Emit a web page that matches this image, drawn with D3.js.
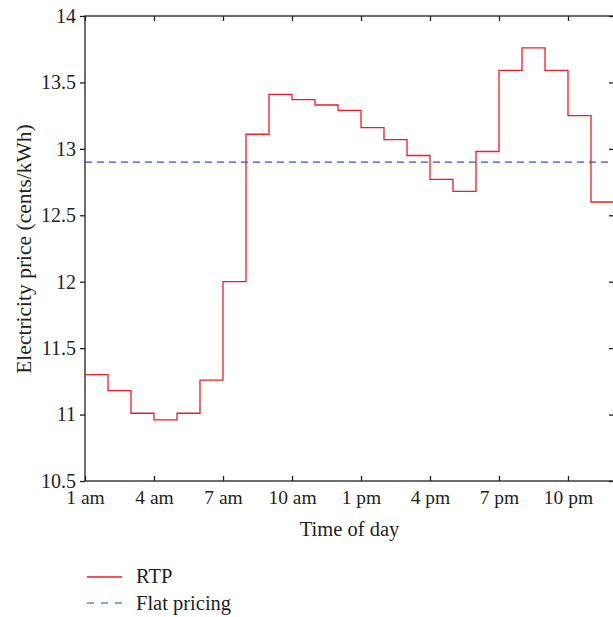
<!DOCTYPE html>
<html>
<head>
<meta charset="utf-8">
<script src="https://cdn.jsdelivr.net/npm/d3@7"></script>
<style>
  body { margin: 0; background: #fff; }
  svg text { font-family: 'Liberation Serif', 'DejaVu Serif', serif; fill: #231f20; }
</style>
</head>
<body>
<svg id="chart" width="613" height="617"></svg>
<script>
// hour at which each price step starts (1 = 1 am ... 23 = 11 pm)
const hours = [1, 2, 3, 4, 5, 6, 7, 8, 9, 10, 11, 12, 13, 14, 15, 16, 17, 18, 19, 20, 21, 22, 23];
const rtp = [11.3, 11.18, 11.01, 10.96, 11.01, 11.26, 12.0, 13.11, 13.41, 13.37, 13.33, 13.29,
	13.16, 13.07, 12.95, 12.77, 12.68, 12.98, 13.59, 13.76, 13.59, 13.25, 12.6];
const flatPrice = 12.9;
const xTicks = [1, 4, 7, 10, 13, 16, 19, 22];
const xTickLabels = ['1 am', '4 am', '7 am', '10 am', '1 pm', '4 pm', '7 pm', '10 pm'];
const yTicks = [10.5, 11, 11.5, 12, 12.5, 13, 13.5, 14];
const yTickLabels = ['10.5', '11', '11.5', '12', '12.5', '13', '13.5', '14'];

const svg = d3.select('#chart');
const plotL = 85, plotR = 614, plotT = 16, plotB = 481;

const x = d3.scaleLinear().domain([1, 24]).range([plotL, plotR]);
const y = d3.scaleLinear().domain([10.5, 14]).range([plotB, plotT]);

const axisColor = '#231f20';
const red = '#ee1c25';
const blue = '#2f55b8';

// frame
svg.append('rect')
	.attr('x', plotL).attr('y', plotT)
	.attr('width', plotR - plotL).attr('height', plotB - plotT)
	.attr('fill', 'none').attr('stroke', axisColor).attr('stroke-width', 1.3);

// x ticks: bottom (inward) with labels, top (inward)
const xAxis = svg.append('g').attr('transform', `translate(0,${plotB})`)
	.call(d3.axisBottom(x).tickValues(xTicks).tickSizeInner(-5).tickSizeOuter(0)
		.tickFormat((d, i) => xTickLabels[i]));
xAxis.select('.domain').remove();
xAxis.selectAll('line').attr('stroke', axisColor).attr('stroke-width', 1.3);
xAxis.selectAll('text').attr('y', 23).attr('dy', null)
	.style('font-size', '19.5px').attr('font-family', null);

const xTop = svg.append('g').attr('transform', `translate(0,${plotT})`)
	.call(d3.axisTop(x).tickValues(xTicks).tickSizeInner(-5).tickSizeOuter(0).tickFormat(''));
xTop.select('.domain').remove();
xTop.selectAll('line').attr('stroke', axisColor).attr('stroke-width', 1.3);

// y ticks: left (outward) with labels, right (inward)
const yAxis = svg.append('g').attr('transform', `translate(${plotL},0)`)
	.call(d3.axisLeft(y).tickValues(yTicks).tickSizeInner(5).tickSizeOuter(0)
		.tickFormat((d, i) => yTickLabels[i]));
yAxis.select('.domain').remove();
yAxis.selectAll('line').attr('stroke', axisColor).attr('stroke-width', 1.3);
yAxis.selectAll('text').attr('x', -9).style('font-size', '20px').attr('font-family', null);

const yRight = svg.append('g').attr('transform', `translate(${plotR},0)`)
	.call(d3.axisRight(y).tickValues(yTicks).tickSizeInner(-5).tickSizeOuter(0).tickFormat(''));
yRight.select('.domain').remove();
yRight.selectAll('line').attr('stroke', axisColor).attr('stroke-width', 1.3);

// flat pricing
svg.append('line')
	.attr('x1', x(1)).attr('x2', x(24))
	.attr('y1', y(flatPrice)).attr('y2', y(flatPrice))
	.attr('stroke', blue).attr('stroke-width', 1.3)
	.attr('stroke-dasharray', '7,5');

// RTP step line
const stepData = hours.map((h, i) => ({ h: h, v: rtp[i] }));
stepData.push({ h: 24, v: rtp[rtp.length - 1] });
const line = d3.line().x(d => x(d.h)).y(d => y(d.v)).curve(d3.curveStepAfter);
svg.append('path')
	.datum(stepData)
	.attr('d', line)
	.attr('fill', 'none')
	.attr('stroke', red)
	.attr('stroke-width', 1.3);

// axis titles
svg.append('text')
	.attr('x', (plotL + plotR) / 2).attr('y', 536)
	.attr('text-anchor', 'middle')
	.style('font-size', '20.5px')
	.text('Time of day');

svg.append('text')
	.attr('transform', `translate(31,249) rotate(-90)`)
	.attr('text-anchor', 'middle')
	.style('font-size', '21.5px')
	.text('Electricity price (cents/kWh)');

// legend
const legend = svg.append('g');
legend.append('line')
	.attr('x1', 87).attr('x2', 122).attr('y1', 577).attr('y2', 577)
	.attr('stroke', red).attr('stroke-width', 1.3);
legend.append('text').attr('x', 136).attr('y', 583).style('font-size', '20.5px').text('RTP');
legend.append('line')
	.attr('x1', 87).attr('x2', 122).attr('y1', 603).attr('y2', 603)
	.attr('stroke', blue).attr('stroke-width', 1.3).attr('stroke-opacity', 0.75)
	.attr('stroke-dasharray', '7,7');
legend.append('text').attr('x', 136).attr('y', 610).style('font-size', '20.5px').text('Flat pricing');
</script>
</body>
</html>
